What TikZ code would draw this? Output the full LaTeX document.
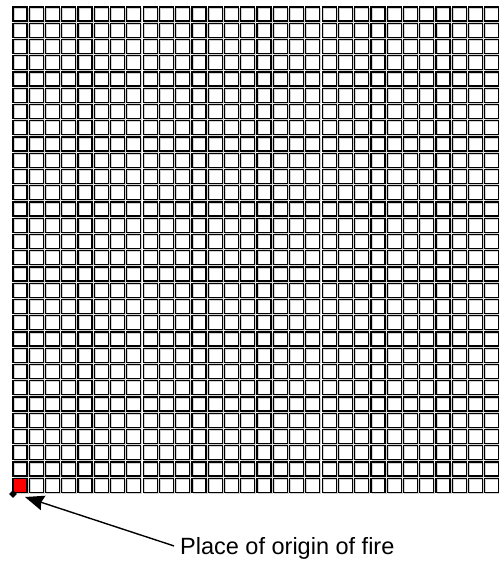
\documentclass[tikz,border=0pt]{standalone}
\usepackage{fontspec}
\setmainfont{Liberation Sans}
\usetikzlibrary{positioning,arrows.meta,shapes.geometric}
\definecolor{fire}{RGB}{255,0,0}

\begin{document}
\begin{tikzpicture}[
    x=1pt, y=-1pt,
    cell/.style={draw=black, line width=1.2pt},
    shade/.style={draw=gray!35, line width=0.8pt},
    arrow/.style={-{Stealth[length=19pt, width=15pt, inset=2pt]}, line width=1.4pt},
    label/.style={font=\fontsize{23.5}{26}\selectfont, inner sep=0pt}
]
    \useasboundingbox (0,0) rectangle (499,562);
    \fill[white] (0,0) rectangle (499,562);
    \begin{scope}
        \clip (0,0) rectangle (499,562);
        % 30 x 30 grid of cells
        \foreach \i in {0,...,29} {
            \foreach \j in {0,...,29} {
                \draw[shade] ({13+16.27*\i+1},{7+16.25*\j+1}) rectangle ++(14,14);
                \draw[cell] ({13+16.27*\i},{7+16.25*\j}) rectangle ++(14,14);
            }
        }
        % cell where the fire starts
        \filldraw[cell, fill=fire] (13,{7+16.25*29}) rectangle ++(14,14);
    \end{scope}

    \node[diamond, fill=black, inner sep=0pt, minimum size=8pt] (corner) at (13,494) {};
    \coordinate (tip) at (25,497);
    \node[label, anchor=base west] (origin) at (180,554) {Place of origin of fire};

    \draw[arrow] (origin.west) ++(-6,-2) -- (tip);
\end{tikzpicture}
\end{document}
